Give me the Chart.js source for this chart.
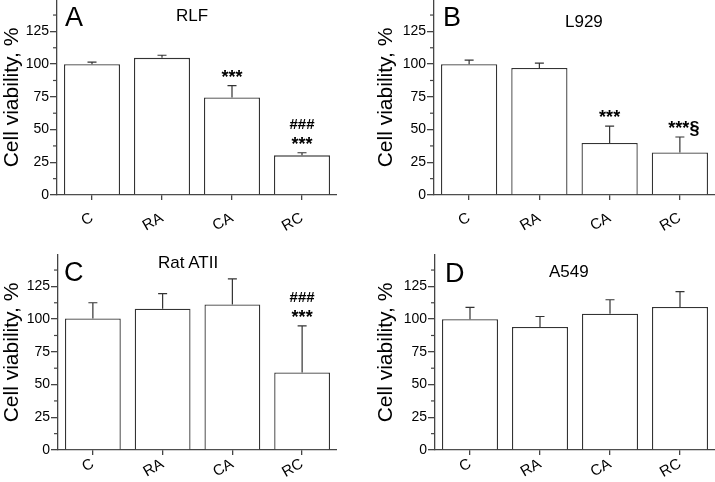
<!DOCTYPE html>
<html>
<head>
<meta charset="utf-8">
<script src="https://cdn.jsdelivr.net/npm/chart.js@4"></script>
<style>
  body { margin: 0; background: #fff; width: 715px; height: 482px; position: relative; overflow: hidden; font-family: Arial, "Liberation Sans", sans-serif; }
  canvas { position: absolute; }
  .letter { position: absolute; font-size: 27px; line-height: 27px; color: #000; }
  .name { position: absolute; font-size: 17px; line-height: 17px; color: #000; }
</style>
</head>
<body>
<canvas id="chartA" width="337" height="240" style="left:0;top:0"></canvas>
<canvas id="chartB" width="341" height="240" style="left:374px;top:0"></canvas>
<canvas id="chartC" width="337" height="242" style="left:0;top:240px"></canvas>
<canvas id="chartD" width="341" height="242" style="left:374px;top:240px"></canvas>

<div class="letter" style="left:65px;top:4px">A</div>
<div class="name" style="left:176px;top:7px">RLF</div>
<div class="letter" style="left:443px;top:4px">B</div>
<div class="name" style="left:565px;top:13px">L929</div>
<div class="letter" style="left:64px;top:259px">C</div>
<div class="name" style="left:158px;top:254px">Rat ATII</div>
<div class="letter" style="left:445px;top:260px">D</div>
<div class="name" style="left:549px;top:263px">A549</div>

<script>
const categories = ["C", "RA", "CA", "RC"];
const yTicks = [0, 25, 50, 75, 100, 125];
const minorTicks = [12.5, 37.5, 62.5, 87.5, 112.5, 137.5];
const yMax = 149;

const rlfValues = [100, 104.8, 74.5, 30.3];
const rlfErrors = [1.5, 2, 9, 2];
const rlfMarks = [[], [], ["***"], ["***", "###"]];

const l929Values = [100, 97, 39.7, 32.5];
const l929Errors = [3, 3.8, 13, 11.8];
const l929Marks = [[], [], ["***"], ["***§"]];

const ratValues = [100.5, 108, 111.2, 59.3];
const ratErrors = [12, 11.5, 19.6, 35.5];
const ratMarks = [[], [], [], ["***", "###"]];

const a549Values = [100, 94, 104.2, 109.3];
const a549Errors = [9, 8, 10.6, 11.7];
const a549Marks = [[], [], [], []];

Chart.defaults.font.family = "Arial, 'Liberation Sans', sans-serif";
Chart.defaults.color = "#000";

// error bars, minor ticks and significance marks
const extrasPlugin = {
  id: "extras",
  afterDatasetsDraw(chart, args, opts) {
    const ctx = chart.ctx;
    const y = chart.scales.y;
    const meta = chart.getDatasetMeta(0);
    ctx.save();
    ctx.strokeStyle = "#333";
    ctx.lineWidth = 1.2;
    meta.data.forEach((bar, i) => {
      const base = y.getPixelForValue(opts.values[i]);
      const top = y.getPixelForValue(opts.values[i] + opts.errors[i]);
      ctx.beginPath();
      ctx.moveTo(bar.x, base);
      ctx.lineTo(bar.x, top);
      ctx.moveTo(bar.x - 4.5, top);
      ctx.lineTo(bar.x + 4.5, top);
      ctx.stroke();

      ctx.fillStyle = "#000";
      ctx.textAlign = "center";
      ctx.textBaseline = "middle";
      opts.marks[i].forEach((txt, k) => {
        const stars = txt.includes("*");
        ctx.font = (stars ? "bold 18px" : "bold 15px") + " Arial, 'Liberation Sans', sans-serif";
        const ty = top - (stars ? 8 : 13) - k * 15;
        ctx.fillText(txt, bar.x + (txt.includes("§") ? 4 : 0), ty);
      });
    });
    const left = chart.chartArea.left;
    ctx.strokeStyle = "#444";
    minorTicks.forEach((v) => {
      const py = y.getPixelForValue(v);
      if (py < chart.chartArea.top) return;
      ctx.beginPath();
      ctx.moveTo(left - 4, py);
      ctx.lineTo(left, py);
      ctx.stroke();
    });
    ctx.restore();
  },
};

function createPanel(id, values, errors, marks, yWidth, xHeight, topPad, labelPad) {
  new Chart(document.getElementById(id), {
    type: "bar",
    data: {
      labels: categories,
      datasets: [
        {
          data: values,
          backgroundColor: "#fff",
          borderColor: "#333",
          borderWidth: 1.3,
          barPercentage: 0.8,
          categoryPercentage: 1,
        },
      ],
    },
    options: {
      responsive: false,
      animation: false,
      layout: { padding: { top: topPad, left: 0, right: 0, bottom: 0 } },
      plugins: {
        legend: { display: false },
        tooltip: { enabled: false },
        extras: { values, errors, marks },
      },
      scales: {
        x: {
          grid: { offset: false, drawOnChartArea: false, tickLength: 5, color: "#444", lineWidth: 1.3 },
          border: { color: "#444", width: 1.3 },
          ticks: { minRotation: 30, maxRotation: 30, font: { size: 15 }, padding: labelPad },
          afterFit(scale) {
            scale.height = xHeight;
            scale.paddingLeft = 0;
            scale.paddingRight = 0;
          },
        },
        y: {
          min: 0,
          max: yMax,
          afterBuildTicks(scale) {
            scale.ticks = yTicks.map((v) => ({ value: v }));
          },
          grid: { drawOnChartArea: false, tickLength: 7, color: "#444", lineWidth: 1.3 },
          border: { color: "#444", width: 1.3 },
          ticks: { font: { size: 14 }, padding: 1 },
          title: {
            display: true,
            text: "Cell viability, %",
            font: { size: 21 },
            padding: { top: 0, bottom: 0 },
          },
          afterFit(scale) {
            scale.width = yWidth;
            scale.paddingTop = 0;
            scale.paddingBottom = 0;
          },
        },
      },
    },
    plugins: [extrasPlugin],
  });
}

createPanel("chartA", rlfValues, rlfErrors, rlfMarks, 57, 45, 0, 9);
createPanel("chartB", l929Values, l929Errors, l929Marks, 60, 45, 0, 9);
createPanel("chartC", ratValues, ratErrors, ratMarks, 58, 32, 15, 0);
createPanel("chartD", a549Values, a549Errors, a549Marks, 61, 32, 15, 0);
</script>
</body>
</html>
